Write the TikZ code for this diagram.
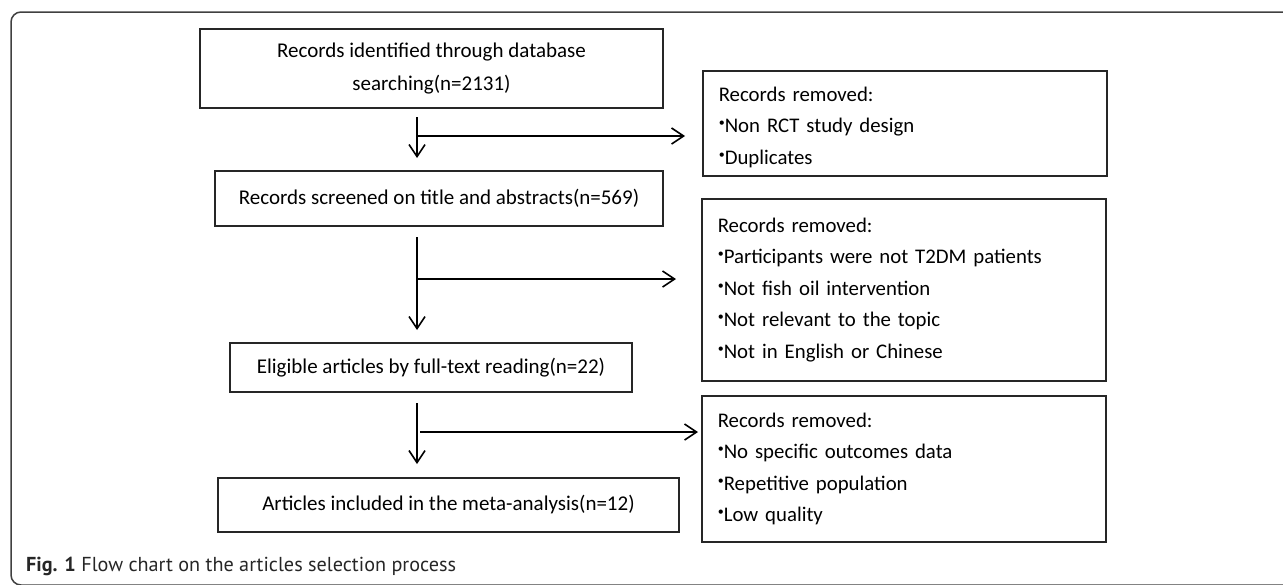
\documentclass[tikz,border=0pt]{standalone}
\usepackage{fontspec}
\setmainfont{Carlito}
\newfontfamily\capfont{PT Sans}
\usetikzlibrary{arrows.meta}
\newcommand\bul{\raisebox{6pt}{\fontsize{12}{12}\selectfont •}}
\begin{document}
\begin{tikzpicture}[x=1pt,y=-1pt,
  box/.style={draw=black!85, line width=1.6pt, inner sep=0pt, align=center,
    font=\fontsize{21}{33}\selectfont},
  rbox/.style={draw=black!85, line width=1.6pt, anchor=north west, inner xsep=16pt,
    inner ysep=0pt, align=left, text width=372pt, font=\fontsize{20.8}{31.5}\selectfont},
  flow/.style={line width=1.6pt, -{Straight Barb[length=12pt,width=16pt,line width=1.6pt]}},
  frame/.style={draw=black!75, line width=1.5pt, rounded corners=10pt}]
\useasboundingbox (0,0) rectangle (1283,584);
\draw[frame] (1300,12) -- (11,12) -- (11,585) -- (1300,585);
% left column
\node[box, minimum width=463pt, minimum height=79pt] (b1) at (431.5,68.5)
  {Records identified through database\\searching(n=2131)};
\node[box, minimum width=448pt, minimum height=55pt] (b2) at (439,198.5)
  {Records screened on title and abstracts(n=569)};
\node[box, minimum width=402pt, minimum height=49pt] (b3) at (431,367.5)
  {Eligible articles by full-text reading(n=22)};
\node[box, minimum width=461pt, minimum height=54pt] (b4) at (448.5,505)
  {Articles included in the meta-analysis(n=12)};
% right column
\node[rbox, minimum height=105pt] (r1) at (702,70)
  {\rule{0pt}{22pt}Records removed:\\\bul Non RCT study design\\\bul Duplicates};
\node[rbox, minimum height=182pt] (r2) at (701,198)
  {Records removed:\\\bul Participants were not T2DM patients\\\bul Not fish oil intervention\\\bul Not relevant to the topic\\\bul Not in English or Chinese};
\node[rbox, minimum height=146pt] (r3) at (701,395)
  {Records removed:\\\bul No specific outcomes data\\\bul Repetitive population\\\bul Low quality};
% connectors
\coordinate (s1) at (417,117); \coordinate (e1) at (417,158);
\coordinate (j1) at (417,136); \coordinate (t1) at (685,136);
\coordinate (s2) at (417,237); \coordinate (e2) at (417,330);
\coordinate (j2) at (417,279); \coordinate (t2) at (676,279);
\coordinate (s3) at (417,403); \coordinate (e3) at (417,464);
\coordinate (j3) at (420,432); \coordinate (t3) at (698,432);
\draw[flow] (s1) -- (e1);
\draw[flow] (j1) -- (t1);
\draw[flow] (s2) -- (e2);
\draw[flow] (j2) -- (t2);
\draw[flow] (s3) -- (e3);
\draw[flow] (j3) -- (t3);
% caption
\node[anchor=west, inner sep=0pt, text=black!85, font=\capfont\fontsize{20.2}{22}\selectfont] (cap) at (26,566)
  {\textbf{Fig. 1} Flow chart on the articles selection process};
\end{tikzpicture}
\end{document}
